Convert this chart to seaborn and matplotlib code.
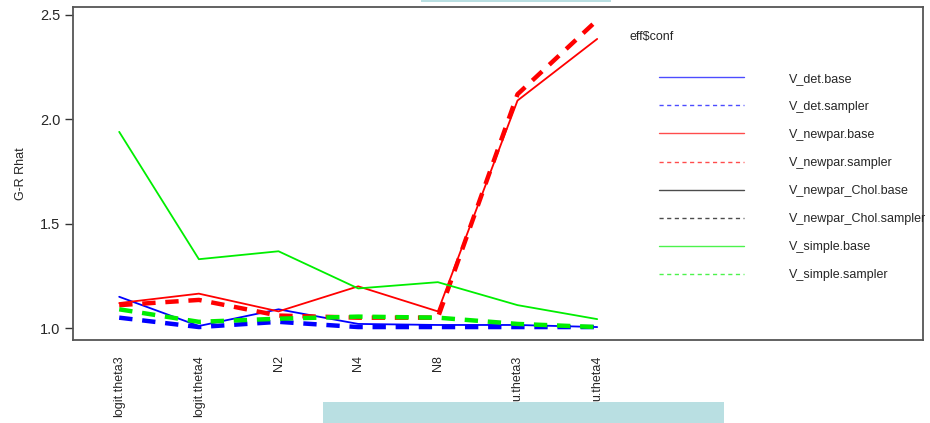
import numpy as np
import pandas as pd
import seaborn as sns
import matplotlib
matplotlib.use("Agg")
import matplotlib.pyplot as plt
from matplotlib.lines import Line2D
from matplotlib.patches import Rectangle

# Parameters on the x axis
params = ["logit.theta3", "logit.theta4", "N2", "N4", "N8", "u.theta3", "u.theta4"]

# Gelman-Rubin Rhat per configuration
v_det_base = [1.15, 1.01, 1.09, 1.02, 1.015, 1.015, 1.005]
v_det_sampler = [1.05, 1.005, 1.03, 1.005, 1.005, 1.005, 1.005]
v_newpar_base = [1.12, 1.165, 1.08, 1.20, 1.08, 2.09, 2.385]
v_newpar_sampler = [1.11, 1.135, 1.06, 1.05, 1.05, 2.12, 2.475]
v_newpar_chol_base = [np.nan] * 7
v_newpar_chol_sampler = [np.nan] * 7
v_simple_base = [1.94, 1.33, 1.368, 1.19, 1.22, 1.11, 1.043]
v_simple_sampler = [1.09, 1.03, 1.045, 1.055, 1.05, 1.02, 1.005]

configs = ["V_det.base", "V_det.sampler", "V_newpar.base", "V_newpar.sampler",
           "V_newpar_Chol.base", "V_newpar_Chol.sampler", "V_simple.base", "V_simple.sampler"]
series = [v_det_base, v_det_sampler, v_newpar_base, v_newpar_sampler,
          v_newpar_chol_base, v_newpar_chol_sampler, v_simple_base, v_simple_sampler]
colors = ["#0000FF", "#0000FF", "#FF0000", "#FF0000", "#000000", "#000000", "#00EE00", "#00EE00"]

sns.set_style("white")
plt.rcParams["font.family"] = ["Liberation Sans", "DejaVu Sans"]

fig = plt.figure(figsize=(9.3, 4.23), dpi=100)
ax = fig.add_axes([73 / 930, 1 - 340 / 423, (923 - 73) / 930, (340 - 7) / 423])

idx = np.arange(1, len(params) + 1)
handles = []
for name, vals, col in zip(configs, series, colors):
    sampler = name.endswith("sampler")
    df = pd.DataFrame({"x": idx, "rhat": vals}).dropna()
    ls = (0, (3, 2.2)) if sampler else "-"
    lw = 3.2 if sampler else 1.3
    if len(df):
        sns.lineplot(data=df, x="x", y="rhat", ax=ax, color=col, linestyle=ls,
                     linewidth=lw, legend=False)
    handles.append(Line2D([0], [0], color=col, alpha=0.7,
                          linestyle=(0, (3, 2.5)) if sampler else "-", linewidth=1.0))

ax.set_xlim(0.42, 11.09)
ax.set_ylim(0.943, 2.538)
ax.set_xticks(idx)
ax.set_xticklabels(params, rotation=90, fontsize=9, va="top")
ax.tick_params(axis="x", length=0, pad=11)
ax.set_yticks([1.0, 1.5, 2.0, 2.5])
ax.set_yticklabels(["1.0", "1.5", "2.0", "2.5"], fontsize=10.5)
ax.tick_params(axis="y", direction="out", length=6, width=1, color="#333333",
               left=True, pad=3)
ax.set_xlabel("")
ax.set_ylabel("G-R Rhat", fontsize=9)
ax.yaxis.set_label_coords(-0.054, 0.5)
for sp in ax.spines.values():
    sp.set_color("#555555")
    sp.set_linewidth(1.3)

leg = ax.legend(handles, configs, loc="upper left",
                bbox_to_anchor=(0.689, 0.803), frameon=False, fontsize=9,
                handlelength=6.8, handletextpad=3.65,
                labelspacing=1.29, borderaxespad=0, borderpad=0)
ax.text(0.655, 0.91, "eff$conf", transform=ax.transAxes, fontsize=9,
        ha="left", va="center")

# page elements overlapping the figure edges
fig.add_artist(Rectangle((421 / 930, 1 - 2 / 423), 190 / 930, 2 / 423,
                         transform=fig.transFigure, facecolor="#b9dfe2",
                         edgecolor="none", zorder=5))
fig.add_artist(Rectangle((323 / 930, 0), 401 / 930, 21 / 423,
                         transform=fig.transFigure, facecolor="#b9dfe2",
                         edgecolor="none", zorder=5))

fig.savefig("out.png", dpi=100)
